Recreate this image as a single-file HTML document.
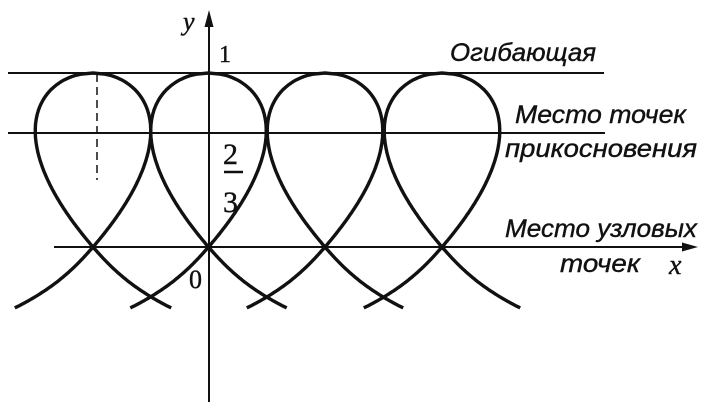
<!DOCTYPE html>
<html><head><meta charset="utf-8"><style>
body{margin:0;background:#fff}
svg{display:block}
text{font-family:"Liberation Sans","DejaVu Sans",sans-serif;fill:#111;stroke:#111;stroke-width:0.4}
.it{font-style:italic}
.s{font-family:"Liberation Serif",serif}
</style></head><body>
<svg id="s" width="708" height="407" viewBox="0 0 708 407" xmlns="http://www.w3.org/2000/svg">
<g stroke="#111" stroke-width="2" fill="none">
<line x1="8" y1="73" x2="604" y2="73"/>
<line x1="8" y1="133" x2="605" y2="133"/>
<line x1="54" y1="247" x2="688" y2="247"/>
<line x1="209" y1="18" x2="209" y2="402"/>
<line x1="97" y1="74" x2="97" y2="180" stroke-dasharray="8,5" stroke-width="1.5"/>
<line x1="224" y1="172" x2="243" y2="172" stroke-width="2.5"/>
</g>
<polygon points="209,10 204.5,27 213.5,27" fill="#111"/>
<polygon points="698,247 682,242.5 682,251.5" fill="#111"/>
<g id="curves" stroke="#111" stroke-width="3.4" fill="none"></g>
<text x="183" y="30" class="it s" font-size="26">y</text>
<text x="219" y="62" class="s" font-size="24">1</text>
<text x="223" y="164" class="s" font-size="30">2</text>
<text x="223" y="212" class="s" font-size="30">3</text>
<text x="189" y="288" class="s" font-size="26">0</text>
<text x="669" y="274" class="it s" font-size="28">x</text>
<text x="450" y="61" class="it" font-size="25" textLength="146" lengthAdjust="spacingAndGlyphs">Огибающая</text>
<text x="515" y="123" class="it" font-size="25" textLength="171" lengthAdjust="spacingAndGlyphs">Место точек</text>
<text x="505" y="157" class="it" font-size="25" textLength="192" lengthAdjust="spacingAndGlyphs">прикосновения</text>
<text x="505" y="237" class="it" font-size="25" textLength="192" lengthAdjust="spacingAndGlyphs">Место узловых</text>
<text x="560" y="272" class="it" font-size="25" textLength="80" lengthAdjust="spacingAndGlyphs">точек</text>
</svg>
<script>
var g=document.getElementById('curves');
var cs=[93,208.5,325,442];
function X(y){var v=150*Math.abs(y)*Math.sqrt(1-y);if(y<0)v*=1+2.3*y*y;return v;}
cs.forEach(function(c){
 var pts=[];
 for(var i=0;i<=200;i++){var y=-0.35+i*(1.35/200);pts.push([c-X(y)*(y<0?-1:1),247-174*y]);}
 for(var i=200;i>=0;i--){var y=-0.35+i*(1.35/200);pts.push([c+X(y)*(y<0?-1:1),247-174*y]);}
 var d='M'+pts.map(function(p){return p[0].toFixed(1)+','+p[1].toFixed(1)}).join('L');
 var p=document.createElementNS('http://www.w3.org/2000/svg','path');
 p.setAttribute('d',d);g.appendChild(p);
});
</script>
</body></html>
